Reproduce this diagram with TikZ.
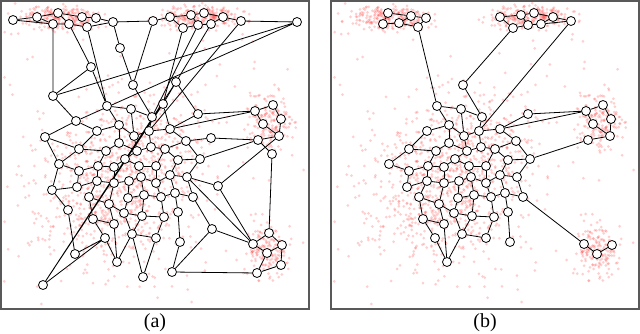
\documentclass[tikz,border=0pt]{standalone}
\usepackage{fontspec}
\setmainfont{Liberation Serif}
\pgfdeclarelayer{back}
\pgfsetlayers{back,main}
\tikzset{
  vtx/.style={circle,draw=black,fill=white,line width=0.8pt,inner sep=0pt,
    minimum size=9pt},
  link/.style={line width=0.8pt,black},
  % sample points behind the graphs
  dot/.style={fill=red!85!white,fill opacity=0.22},
  panel/.style={draw=black!65,line width=1.3pt},
  lab/.style={font=\fontsize{20}{24}\selectfont}
}
\newcommand{\dotcloud}[5]{%
  \foreach \i in {1,...,#5}{%
    \pgfmathsetmacro{\cdx}{#3*(rand+rand+rand)}%
    \pgfmathsetmacro{\cdy}{#4*(rand+rand+rand)}%
    \fill[dot] ({#1+\cdx},{#2+\cdy}) circle (1.5);
  }}
\newcommand{\alldots}{%
  \pgfmathsetseed{2024}%
  \dotcloud{58}{18}{20}{6}{260}%
  \dotcloud{205}{17}{21}{6}{260}%
  \dotcloud{268}{122}{10}{14}{170}%
  \dotcloud{267}{252}{11}{14}{170}%
  \dotcloud{112}{188}{32}{34}{600}%
  \dotcloud{155}{140}{28}{24}{230}%
  \dotcloud{110}{200}{55}{55}{170}%
  \foreach \i in {1,...,100}{%
    \fill[dot] ({155+150*rand},{165+135*rand}) circle (1.5);
  }}

\begin{document}
\begin{tikzpicture}[x=1pt,y=-1pt]
  \useasboundingbox (0,0) rectangle (640,334);
  \begin{pgfonlayer}{back}
    \begin{scope}
      \clip (1,1) rectangle (309,309);
      \alldots
    \end{scope}
    \begin{scope}[xshift=330pt]
      \clip (1,1) rectangle (309,309);
      \alldots
    \end{scope}
  \end{pgfonlayer}

  % mesh shared by both layouts
  \foreach \p/\s in {a/0,b/330}{
    \foreach \n/\x/\y in {0/133/85, 1/107/106, 2/131/109, 3/152/117,
        4/119/125, 5/97/131, 6/149/131, 7/134/136, 8/119/143, 9/151/147,
        10/79/149, 11/106/151, 12/137/151, 13/170/129, 14/198/114,
        15/186/141, 16/200/159, 17/165/149, 18/125/159, 19/59/164,
        20/98/166, 21/114/167, 22/139/166, 23/156/166, 24/178/160,
        25/79/171, 26/97/181, 27/114/183, 28/129/181, 29/141/177,
        30/156/183, 31/170/175, 32/187/177, 33/77/187, 34/89/197,
        35/109/204, 36/128/198, 37/144/195, 38/161/197, 39/175/193,
        40/193/197, 41/124/213, 42/142/216, 43/164/217, 44/178/212,
        45/93/219, 46/114/224, 47/132/234, 48/105/238, 49/156/238,
        50/180/242, 51/117/262}
      \node[vtx] (\p\n) at (\x+\s,\y) {};
  }

  % (a)
  \node[vtx] (at1) at (13,20) {};
  \node[vtx] (at2) at (37,17) {};
  \node[vtx] (at3) at (58,13) {};
  \node[vtx] (at4) at (82,17) {};
  \node[vtx] (at5) at (96,18) {};
  \node[vtx] (at6) at (113,22) {};
  \node[vtx] (at7) at (153,21) {};
  \node[vtx] (at8) at (53,24) {};
  \node[vtx] (at9) at (69,24) {};
  \node[vtx] (at10) at (87,27) {};
  \node[vtx] (at11) at (170,17) {};
  \node[vtx] (at12) at (191,15) {};
  \node[vtx] (at13) at (204,13) {};
  \node[vtx] (at14) at (223,17) {};
  \node[vtx] (at15) at (241,21) {};
  \node[vtx] (at16) at (297,22) {};
  \node[vtx] (at17) at (183,28) {};
  \node[vtx] (at18) at (198,25) {};
  \node[vtx] (at19) at (211,24) {};
  \node[vtx] (ax1) at (120,48) {};
  \node[vtx] (ax2) at (91,67) {};
  \node[vtx] (ax3) at (176,82) {};
  \node[vtx] (ax4) at (53,96) {};
  \node[vtx] (ax5) at (163,104) {};
  \node[vtx] (ax6) at (76,121) {};
  \node[vtx] (ax7) at (45,137) {};
  \node[vtx] (ax8) at (211,138) {};
  \node[vtx] (ax9) at (52,190) {};
  \node[vtx] (ax10) at (218,186) {};
  \node[vtx] (ax11) at (68,210) {};
  \node[vtx] (ax12) at (212,229) {};
  \node[vtx] (ax13) at (75,254) {};
  \node[vtx] (ax14) at (143,277) {};
  \node[vtx] (ax15) at (172,272) {};
  \node[vtx] (ax16) at (43,285) {};
  \node[vtx] (ar1) at (255,111) {};
  \node[vtx] (ar2) at (273,105) {};
  \node[vtx] (ar3) at (281,119) {};
  \node[vtx] (ar4) at (263,124) {};
  \node[vtx] (ar5) at (279,136) {};
  \node[vtx] (ar6) at (258,140) {};
  \node[vtx] (ar7) at (272,154) {};
  \node[vtx] (as1) at (269,233) {};
  \node[vtx] (as2) at (253,244) {};
  \node[vtx] (as3) at (267,253) {};
  \node[vtx] (as4) at (282,245) {};
  \node[vtx] (as5) at (281,265) {};
  \node[vtx] (as6) at (257,273) {};

  % (b)
  \node[vtx] (bt1) at (388,13) {};
  \node[vtx] (bt2) at (411,16) {};
  \node[vtx] (bt3) at (426,18) {};
  \node[vtx] (bt4) at (383,24) {};
  \node[vtx] (bt5) at (399,23) {};
  \node[vtx] (bt6) at (418,27) {};
  \node[vtx] (bt7) at (500,17) {};
  \node[vtx] (bt8) at (521,15) {};
  \node[vtx] (bt9) at (534,13) {};
  \node[vtx] (bt10) at (553,17) {};
  \node[vtx] (bt11) at (571,21) {};
  \node[vtx] (bt12) at (513,28) {};
  \node[vtx] (bt13) at (528,25) {};
  \node[vtx] (bt14) at (541,24) {};
  \node[vtx] (br1) at (586,111) {};
  \node[vtx] (br2) at (603,105) {};
  \node[vtx] (br3) at (611,119) {};
  \node[vtx] (br4) at (593,124) {};
  \node[vtx] (br5) at (610,136) {};
  \node[vtx] (br6) at (588,140) {};
  \node[vtx] (bs1) at (584,244) {};
  \node[vtx] (bs2) at (597,254) {};
  \node[vtx] (bs3) at (612,245) {};

  \begin{pgfonlayer}{back}
    \foreach \p in {a,b}
      \foreach \u/\v in {0/3, 1/2, 1/4, 2/3, 2/7, 3/6, 4/5, 4/7, 4/8, 5/10,
          6/7, 6/9, 6/13, 7/12, 8/11, 8/12, 9/12, 9/17, 10/11, 10/19,
          11/20, 12/18, 13/14, 13/15, 15/16, 15/17, 17/23, 17/24, 18/21,
          18/22, 19/25, 20/21, 20/25, 20/26, 21/27, 22/23, 22/29, 23/30,
          24/16, 24/31, 16/32, 25/33, 26/27, 26/33, 26/34, 27/28, 27/35,
          28/29, 28/36, 29/30, 29/37, 30/31, 30/38, 31/32, 31/39, 32/40,
          34/35, 34/45, 35/41, 35/46, 36/37, 36/41, 37/38, 37/42, 38/39,
          38/43, 39/40, 39/44, 41/42, 41/47, 42/43, 42/47, 43/49, 44/50,
          45/46, 45/48, 46/51, 48/51, 47/49, 47/51}
        \draw[link] (\p\u) -- (\p\v);

    \draw[link] (at1) -- (at2) -- (at3) -- (at4) -- (at5) -- (at6) -- (at7)
      -- (at11) -- (at12) -- (at13) -- (at14) -- (at15) -- (at16);
    \draw[link] (at1) -- (at8) -- (at9) -- (at10) -- (at6);
    \draw[link] (at2) -- (at8);
    \draw[link] (at3) -- (at9);
    \draw[link] (at11) -- (at17) -- (at18) -- (at19) -- (at14);
    \draw[link] (at12) -- (at18);
    \draw[link] (at8) -- (ax4) -- (at16) -- (ax6);
    \draw[link] (at9) -- (ax2) -- (ax4) -- (ax6) -- (ax7) -- (a10);
    \draw[link] (ax2) -- (a1) -- (at10);
    \draw[link] (at6) -- (ax1) -- (a0) -- (at7);
    \draw[link] (at17) -- (ax5) -- (ax3) -- (at19);
    \draw[link] (at18) -- (a3);
    \draw[link] (at15) -- (a6);
    \draw[link] (ax6) -- (a5);
    \draw[link] (ax7) -- (a19);
    \draw[link] (ax3) -- (a14) -- (ar1) -- (a13) -- (ax5);
    \draw[link] (ax3) -- (ax16) -- (ax5);
    \draw[link] (a15) -- (ax8) -- (ar6) -- (a16);
    \draw[link] (ar1) -- (ar2) -- (ar3) -- (ar5) -- (ar6) -- (ar7) -- (as1);
    \draw[link] (ar1) -- (ar4) -- (ar5);
    \draw[link] (ar5) -- (ax10) -- (a32) -- (as2);
    \draw[link] (ax10) -- (as2);
    \draw[link] (a40) -- (ax12) -- (as2);
    \draw[link] (ax12) -- (ax15) -- (a50);
    \draw[link] (ax15) -- (as6);
    \draw[link] (as1) -- (as4) -- (as5) -- (as6) -- (as3) -- (as2) -- (as1);
    \draw[link] (as3) -- (as4);
    \draw[link] (a19) -- (ax9) -- (a33);
    \draw[link] (ax9) -- (ax11) -- (ax13) -- (a48) -- (ax16);
    \draw[link] (a47) -- (ax14) -- (a49);

    \draw[link] (bt4) -- (bt1) -- (bt2) -- (bt3) -- (bt6) -- (bt5) -- (bt4);
    \draw[link] (bt2) -- (bt5);
    \draw[link] (bt7) -- (bt8) -- (bt9) -- (bt10) -- (bt11) -- (bt14)
      -- (bt13) -- (bt12) -- (bt7);
    \draw[link] (bt8) -- (bt13);
    \draw[link] (bt10) -- (bt14);
    \draw[link] (bt6) -- (b1);
    \draw[link] (bt12) -- (b0);
    \draw[link] (bt11) -- (b6);
    \draw[link] (br1) -- (br2) -- (br3) -- (br5) -- (br6);
    \draw[link] (br1) -- (br4) -- (br5);
    \draw[link] (b13) -- (br1) -- (b14);
    \draw[link] (b16) -- (br6);
    \draw[link] (b40) -- (bs1) -- (bs2) -- (bs3);
  \end{pgfonlayer}

  \draw[panel] (1,1) rectangle (309,309);
  \draw[panel] (331,1) rectangle (639,309);
  \node[lab] (la) at (155,323) {(a)};
  \node[lab] (lb) at (485,323) {(b)};
\end{tikzpicture}
\end{document}
